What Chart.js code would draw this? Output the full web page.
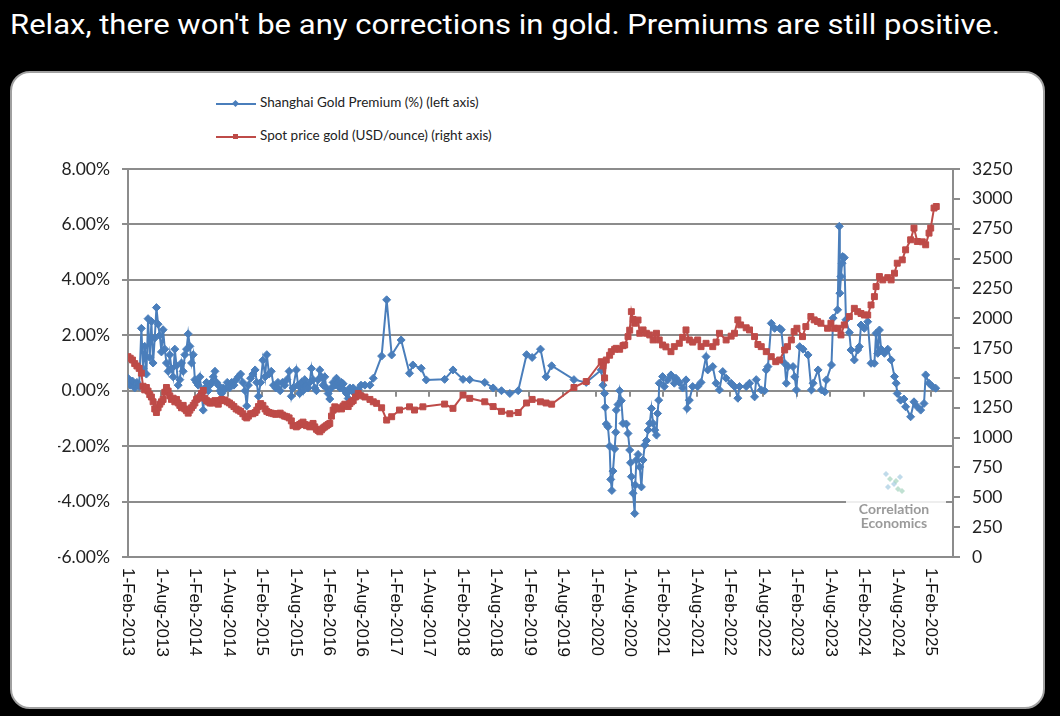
<!DOCTYPE html>
<html>
<head>
<meta charset="utf-8">
<script src="https://cdn.jsdelivr.net/npm/chart.js@4.4.1/dist/chart.umd.min.js"></script>
<style>
  body { margin: 0; width: 1060px; height: 716px; background: #000; overflow: hidden; position: relative; }
  #title { position: absolute; left: 10px; top: 8px; color: #fff; font: 28px Roboto, sans-serif; white-space: nowrap; transform-origin: left top; }
  #panel { position: absolute; left: 10px; top: 71px; width: 1031px; height: 634px; background: #fff; border: 2px solid #a0a0a0; border-radius: 20px; }
  #chart { position: absolute; left: 0; top: 0; }
  #legend { position: absolute; left: 216px; top: 94px; font: 13.5px Lato, sans-serif; color: #222; }
  .item { height: 33px; display: flex; align-items: flex-start; }
  .key { position: relative; width: 40px; height: 2px; margin: 9px 4px 0 0; }
  .key i { position: absolute; left: 17px; top: -2px; width: 5px; height: 5px; }
</style>
</head>
<body>
<div id="title">Relax, there won't be any corrections in gold. Premiums are still positive.</div>
<div id="panel"></div>
<div id="legend">
  <div class="item"><span class="key" id="keyBlue"><i style="transform: rotate(45deg)"></i></span><span id="labelBlue"></span></div>
  <div class="item"><span class="key" id="keyRed"><i></i></span><span id="labelRed"></span></div>
</div>
<canvas id="chart" width="1060" height="716"></canvas>
<script>
// x values are month index, 0 = 1-Feb-2013
const xTickLabels = [
  '1-Feb-2013', '1-Aug-2013', '1-Feb-2014', '1-Aug-2014', '1-Feb-2015', '1-Aug-2015',
  '1-Feb-2016', '1-Aug-2016', '1-Feb-2017', '1-Aug-2017', '1-Feb-2018', '1-Aug-2018',
  '1-Feb-2019', '1-Aug-2019', '1-Feb-2020', '1-Aug-2020', '1-Feb-2021', '1-Aug-2021',
  '1-Feb-2022', '1-Aug-2022', '1-Feb-2023', '1-Aug-2023', '1-Feb-2024', '1-Aug-2024',
  '1-Feb-2025'
];

const premiumMonths = [
  0.0, 0.4, 0.8, 1.2, 1.6, 2.0, 2.4, 2.7, 3.0, 3.3, 3.6, 3.9, 4.2, 4.5, 4.8, 5.1, 5.4, 5.7, 6.0, 6.3,
  6.6, 6.9, 7.2, 7.5, 7.8, 8.1, 8.4, 8.7, 9.0, 9.3, 9.6, 9.9, 10.2, 10.5, 10.8, 11.1, 11.4, 11.7, 12.0, 12.3,
  12.6, 12.9, 13.2, 13.5, 13.8, 14.1, 14.4, 14.7, 15.0, 15.3, 15.6, 15.9, 16.2, 16.5, 16.8, 17.1, 17.4, 17.8, 18.2, 18.6,
  19.0, 19.4, 19.8, 20.2, 20.6, 21.0, 21.3, 21.6, 22.0, 22.4, 22.8, 23.1, 23.4, 23.8, 24.2, 24.6, 24.9, 25.3, 25.7, 26.1,
  26.5, 26.9, 27.3, 27.7, 28.1, 28.5, 28.9, 29.3, 29.6, 30.2, 30.5, 30.8, 31.1, 31.4, 31.7, 32.0, 32.3, 32.6, 32.9, 33.2,
  33.5, 33.8, 34.1, 34.4, 34.7, 35.0, 35.3, 35.6, 35.9, 36.2, 36.5, 36.8, 37.1, 37.4, 37.7, 38.0, 38.3, 38.6, 38.9, 39.2,
  39.5, 39.8, 40.1, 40.4, 40.8, 41.3, 41.8, 42.5, 43.4, 44.0, 45.5, 46.4, 47.3, 49.0, 50.5, 51.1, 52.6, 53.5, 56.8, 58.3,
  60.1, 61.3, 64.0, 65.5, 67.0, 68.5, 70.0, 71.5, 72.5, 74.0, 75.0, 76.0, 80.0, 82.2, 84.9, 85.2, 85.5, 85.6, 85.8, 86.1,
  86.4, 86.6, 86.8, 87.0, 87.3, 87.5, 87.6, 87.9, 88.2, 88.5, 88.8, 89.4, 89.7, 90.0, 90.15, 90.3, 90.6, 90.9, 91.0, 91.2,
  91.5, 91.8, 92.1, 92.4, 92.7, 93.0, 93.3, 93.6, 93.9, 94.2, 94.5, 94.8, 95.0, 95.2, 95.3, 95.9, 96.2, 96.8, 97.4, 98.0,
  98.3, 98.9, 99.5, 100.1, 100.3, 100.7, 101.3, 102.2, 102.8, 103.7, 104.0, 104.9, 105.5, 106.1, 106.7, 107.3, 108.2, 108.8, 109.4, 109.7,
  110.9, 111.5, 112.4, 112.7, 113.6, 114.2, 114.5, 114.8, 115.4, 116.0, 116.9, 117.2, 117.8, 118.1, 118.4, 119.3, 119.6, 119.9, 120.5, 121.1,
  122.0, 122.6, 122.9, 123.8, 124.4, 125.0, 125.3, 126.2, 126.5, 127.3, 127.6, 127.7, 127.9, 128.1, 128.2, 128.5, 128.8, 129.4, 129.7, 130.3,
  130.9, 131.2, 131.5, 132.1, 132.7, 133.3, 133.9, 134.2, 134.5, 134.8, 135.1, 135.7, 136.3, 136.9, 137.5, 137.8, 138.0, 138.6, 139.2, 139.5,
  140.4, 141.0, 141.6, 142.2, 142.8, 143.1, 143.7, 144.3, 144.9
];
const premiumPct = [
  0.45, 0.2, 0.35, 0.1, 0.3, 0.15, 2.25, 0.8, 1.6, 0.6, 2.6, 1.2, 2.5, 1.0, 1.9, 3.0, 2.4, 2.0, 1.4, 2.2,
  1.5, 1.0, 0.7, 1.3, 0.8, 0.5, 1.5, 0.9, 0.2, 0.4, 1.0, 0.7, 1.3, 1.5, 2.05, 1.6, 1.0, 1.3, 0.4, 0.3,
  0.2, 0.5, -0.1, -0.7, 0.1, 0.3, 0.0, 0.2, 0.3, 0.5, 0.7, 0.3, 0.2, 0.0, -0.1, 0.1, 0.05, 0.3, 0.1, 0.3,
  0.2, 0.4, 0.5, 0.6, 0.3, 0.0, -0.55, 0.2, 0.45, 0.6, 0.75, 0.3, -0.2, 0.3, 1.1, 0.5, 1.3, 0.6, 0.7, 0.2,
  0.1, 0.3, 0.0, 0.3, 0.2, 0.4, 0.7, -0.2, 0.1, 0.75, 0.2, -0.1, 0.3, 0.0, 0.4, 0.2, 0.1, 0.3, 0.8, 0.4,
  0.1, 0.0, 0.4, 0.75, 0.5, 0.2, 0.5, 0.1, -0.1, -0.3, 0.1, 0.3, 0.2, 0.45, 0.3, 0.1, 0.3, 0.25, 0.0, -0.1,
  -0.28, 0.1, 0.0, 0.1, -0.1, 0.05, 0.2, 0.2, 0.2, 0.45, 1.25, 3.28, 1.29, 1.83, 0.63, 0.93, 0.81, 0.39, 0.41, 0.75,
  0.41, 0.4, 0.3, 0.1, 0.0, -0.1, 0.0, 1.3, 1.2, 1.5, 0.5, 0.9, 0.4, 0.3, 0.75, 0.2, -0.1, -0.6, -1.2, -1.3,
  -2.0, -3.2, -3.6, -2.9, -2.1, -1.5, -0.7, -0.5, 0.0, -0.36, -1.18, -1.2, -1.54, -2.14, -2.6, -3.1, -3.7, -4.43, -3.4, -2.5,
  -2.3, -2.75, -3.47, -2.5, -1.96, -1.8, -1.42, -1.18, -0.64, -1.18, -1.42, -1.6, -0.82, -0.34, 0.27, 0.51, 0.15, 0.39, 0.57, 0.27,
  0.45, 0.3, 0.1, 0.39, -0.64, -0.34, 0.15, 0.15, 0.3, 1.23, 0.75, 0.87, 0.27, 0.03, 0.69, 0.45, 0.27, 0.15, -0.27, 0.15,
  0.15, 0.27, -0.22, 0.4, 0.03, 0.0, 0.75, 0.87, 2.43, 2.25, 2.25, 2.2, 0.99, 0.27, 0.87, 0.87, 0.5, 0.03, 1.59, 1.5,
  1.29, 0.03, 0.27, 0.75, 0.03, -0.04, 0.39, 0.93, 2.62, 2.92, 5.93, 3.52, 4.12, 4.6, 4.84, 4.8, 2.56, 2.1, 1.47, 1.11,
  1.47, 1.59, 2.37, 2.25, 2.49, 0.99, 0.99, 2.07, 1.35, 2.19, 1.5, 1.35, 1.5, 1.11, 0.51, 0.27, -0.1, -0.34, -0.3, -0.58,
  -0.94, -0.4, -0.58, -0.7, -0.46, 0.57, 0.27, 0.15, 0.09
];

const spotMonths = [
  0.0, 0.4, 0.8, 1.2, 1.6, 2.0, 2.4, 2.7, 3.0, 3.3, 3.6, 3.9, 4.2, 4.5, 4.8, 5.1, 5.4, 5.7, 6.0, 6.3,
  6.6, 6.9, 7.2, 7.5, 7.8, 8.1, 8.4, 8.7, 9.0, 9.3, 9.6, 9.9, 10.2, 10.5, 10.8, 11.1, 11.4, 11.7, 12.0, 12.3,
  12.6, 12.9, 13.2, 13.5, 13.8, 14.1, 14.4, 14.7, 15.0, 15.3, 15.6, 15.9, 16.2, 16.5, 16.8, 17.1, 17.4, 17.8, 18.2, 18.6,
  19.0, 19.4, 19.8, 20.2, 20.6, 21.0, 21.3, 21.6, 22.0, 22.4, 22.8, 23.1, 23.4, 23.8, 24.2, 24.6, 24.9, 25.3, 25.7, 26.1,
  26.5, 26.9, 27.3, 27.7, 28.1, 28.5, 28.9, 29.3, 29.6, 30.2, 30.5, 30.8, 31.1, 31.4, 31.7, 32.0, 32.3, 32.6, 32.9, 33.2,
  33.5, 33.8, 34.1, 34.4, 34.7, 35.0, 35.3, 35.6, 35.9, 36.2, 36.5, 36.8, 37.1, 37.4, 37.7, 38.0, 38.3, 38.6, 38.9, 39.2,
  39.5, 39.8, 40.1, 40.4, 40.8, 41.3, 41.8, 42.5, 43.4, 44.0, 44.6, 45.5, 46.4, 47.3, 48.7, 50.5, 51.4, 52.9, 56.8, 58.3,
  60.1, 61.3, 64.0, 65.5, 67.0, 68.5, 70.0, 71.5, 72.5, 74.0, 75.0, 76.0, 80.0, 82.2, 84.9, 85.2, 85.5, 85.8, 86.4, 86.7,
  87.3, 87.6, 88.2, 88.8, 89.1, 89.7, 90.0, 90.3, 90.6, 90.9, 91.5, 91.8, 92.4, 93.0, 93.6, 94.2, 94.8, 95.3, 95.9, 96.5,
  97.4, 98.0, 98.9, 99.5, 100.1, 100.7, 101.3, 102.2, 102.8, 103.7, 104.9, 105.5, 106.1, 107.3, 108.2, 108.8, 109.4, 109.9, 110.9, 111.5,
  112.4, 113.0, 113.6, 114.5, 115.4, 116.2, 116.9, 117.8, 118.3, 119.0, 119.5, 120.0, 121.0, 121.6, 122.5, 123.1, 123.7, 124.3, 125.5, 126.1,
  126.7, 127.4, 127.9, 128.5, 129.4, 130.3, 130.9, 131.5, 132.1, 132.7, 133.3, 133.9, 134.2, 134.8, 135.4, 136.3, 136.9, 137.5, 138.0, 138.9,
  139.5, 140.4, 141.0, 141.6, 142.5, 143.1, 143.7, 144.0, 144.6, 145.0
];
const spotUsd = [
  1678, 1665, 1650, 1620, 1600, 1580, 1540, 1430, 1400, 1420, 1390, 1360, 1340, 1300, 1240, 1210, 1250, 1280, 1300, 1320,
  1380, 1420, 1390, 1350, 1320, 1330, 1300, 1320, 1290, 1270, 1250, 1270, 1240, 1225, 1205, 1230, 1250, 1270, 1290, 1320,
  1330, 1340, 1370, 1395, 1330, 1310, 1300, 1290, 1290, 1300, 1310, 1290, 1280, 1310, 1320, 1310, 1315, 1300, 1290, 1275,
  1260, 1240, 1230, 1220, 1200, 1175, 1165, 1180, 1200, 1200, 1210, 1230, 1260, 1285, 1270, 1240, 1220, 1210, 1205, 1200,
  1195, 1200, 1205, 1190, 1180, 1175, 1165, 1140, 1100, 1090, 1100, 1110, 1120, 1130, 1110, 1100, 1105, 1090, 1095, 1119,
  1090, 1070, 1060, 1049, 1065, 1080, 1090, 1100, 1110, 1119, 1180, 1230, 1258, 1240, 1245, 1250, 1240, 1265, 1280, 1273,
  1260, 1285, 1300, 1310, 1340, 1370, 1350, 1340, 1320, 1300, 1287, 1250, 1147, 1175, 1231, 1258, 1231, 1258, 1281, 1245,
  1357, 1329, 1300, 1260, 1220, 1200, 1210, 1290, 1320, 1300, 1290, 1280, 1420, 1470, 1636, 1600, 1500, 1650, 1690, 1720,
  1740, 1748, 1740, 1770, 1776, 1846, 1900, 2055, 1990, 1958, 1985, 1874, 1902, 1874, 1860, 1818, 1874, 1818, 1776, 1760,
  1720, 1762, 1790, 1840, 1902, 1818, 1800, 1818, 1762, 1790, 1762, 1800, 1874, 1818, 1850, 1874, 1986, 1944, 1920, 1902,
  1846, 1780, 1762, 1720, 1678, 1636, 1650, 1734, 1762, 1818, 1888, 1916, 1846, 1930, 2014, 1986, 1972, 1958, 1916, 1958,
  1916, 1916, 1860, 1944, 2014, 2083, 2055, 2040, 2027, 2027, 2111, 2181, 2265, 2349, 2321, 2340, 2321, 2377, 2461, 2489,
  2573, 2657, 2755, 2643, 2640, 2615, 2713, 2755, 2923, 2936
];

const BLUE = '#4a7ebb';
const RED = '#be4b48';
const GRID = '#8c8c8c';
const premiumLabel = 'Shanghai Gold Premium (%) (left axis)';
const spotLabel = 'Spot price gold (USD/ounce) (right axis)';

function toPoints(xs, ys) {
  return xs.map((x, i) => ({ x: x, y: ys[i] }));
}

// small tick marks hanging from the 0% line
const zeroLineTicks = {
  id: 'zeroLineTicks',
  beforeDatasetsDraw(chart) {
    const { ctx, scales: { x, y } } = chart;
    const y0 = y.getPixelForValue(0);
    ctx.save();
    ctx.strokeStyle = GRID;
    ctx.lineWidth = 2;
    x.ticks.forEach(t => {
      const px = Math.round(x.getPixelForValue(t.value));
      ctx.beginPath();
      ctx.moveTo(px, y0);
      ctx.lineTo(px, y0 + 6);
      ctx.stroke();
    });
    ctx.restore();
  }
};

// watermark in the lower right corner of the plot
const watermark = {
  id: 'watermark',
  beforeDatasetsDraw(chart) {
    const ctx = chart.ctx;
    ctx.save();
    ctx.fillStyle = 'rgba(255,255,255,0.85)';
    ctx.fillRect(846, 468, 100, 70);
    const cells = [[886, 474], [890, 479], [894, 484], [898, 489], [900, 477], [896, 481], [888, 487], [902, 491]];
    cells.forEach(([cx, cy], i) => {
      ctx.fillStyle = i % 2 ? 'rgba(150,205,180,0.6)' : 'rgba(150,195,220,0.6)';
      ctx.beginPath();
      ctx.moveTo(cx, cy - 3); ctx.lineTo(cx + 3, cy); ctx.lineTo(cx, cy + 3); ctx.lineTo(cx - 3, cy);
      ctx.closePath();
      ctx.fill();
    });
    ctx.fillStyle = '#9a9a9a';
    ctx.font = 'bold 14px Lato';
    ctx.textAlign = 'center';
    ctx.textBaseline = 'middle';
    ctx.fillText('Correlation', 894, 509);
    ctx.fillText('Economics', 894, 523);
    ctx.restore();
  }
};

// x labels read top to bottom
const xLabels = {
  id: 'xLabels',
  afterDraw(chart) {
    const { ctx, scales: { x } } = chart;
    ctx.save();
    ctx.fillStyle = '#111';
    ctx.font = '17px "Liberation Sans"';
    ctx.textAlign = 'left';
    ctx.textBaseline = 'middle';
    x.ticks.forEach((t, i) => {
      ctx.save();
      ctx.translate(x.getPixelForValue(t.value), 568);
      ctx.rotate(Math.PI / 2);
      ctx.fillText(xTickLabels[i], 0, 0);
      ctx.restore();
    });
    ctx.restore();
  }
};

const axisFont = { family: 'Lato', size: 17.5 };

new Chart(document.getElementById('chart'), {
  type: 'line',
  data: {
    datasets: [
      {
        label: premiumLabel,
        data: toPoints(premiumMonths, premiumPct),
        yAxisID: 'y',
        borderColor: BLUE,
        backgroundColor: BLUE,
        borderWidth: 2,
        pointStyle: 'rectRot',
        pointRadius: 4,
        pointBorderWidth: 1,
        order: 1
      },
      {
        label: spotLabel,
        data: toPoints(spotMonths, spotUsd),
        yAxisID: 'y2',
        borderColor: RED,
        backgroundColor: RED,
        borderWidth: 2,
        pointStyle: 'rect',
        pointRadius: 4.2,
        pointBorderWidth: 1,
        order: 0
      }
    ]
  },
  options: {
    responsive: false,
    animation: false,
    layout: { padding: { left: 58, right: 27, top: 169, bottom: 59 } },
    plugins: { legend: { display: false }, tooltip: { enabled: false } },
    scales: {
      x: {
        type: 'linear',
        min: 0,
        max: 148,
        grid: { display: false },
        border: { color: GRID, width: 2 },
        ticks: { display: false },
        afterBuildTicks: s => { s.ticks = xTickLabels.map((_, i) => ({ value: i * 6 })); },
        afterFit: s => { s.height = 100; }
      },
      y: {
        position: 'left',
        min: -6,
        max: 8,
        ticks: { stepSize: 2, padding: 12, color: '#222', font: axisFont, callback: v => v.toFixed(2) + '%' },
        grid: { color: GRID, lineWidth: 2, tickLength: 6 },
        border: { color: GRID, width: 2 },
        afterFit: s => { s.width = 70; }
      },
      y2: {
        position: 'right',
        min: 0,
        max: 3250,
        ticks: { stepSize: 250, padding: 12, color: '#222', font: axisFont, callback: v => String(v) },
        grid: { drawOnChartArea: false, color: GRID, lineWidth: 2, tickLength: 7 },
        border: { color: GRID, width: 2 },
        afterFit: s => { s.width = 80; }
      }
    }
  },
  plugins: [zeroLineTicks, watermark, xLabels]
});

// legend
document.getElementById('labelBlue').textContent = premiumLabel;
document.getElementById('labelRed').textContent = spotLabel;
document.getElementById('keyBlue').style.background = BLUE;
document.getElementById('keyBlue').firstChild.style.background = BLUE;
document.getElementById('keyRed').style.background = RED;
document.getElementById('keyRed').firstChild.style.background = RED;

// squeeze the title to the width seen in the screenshot
function fitTitle() {
  const t = document.getElementById('title');
  t.style.transform = 'none';
  t.style.transform = 'scaleX(' + (990 / t.getBoundingClientRect().width) + ')';
}
fitTitle();
</script>
</body>
</html>
